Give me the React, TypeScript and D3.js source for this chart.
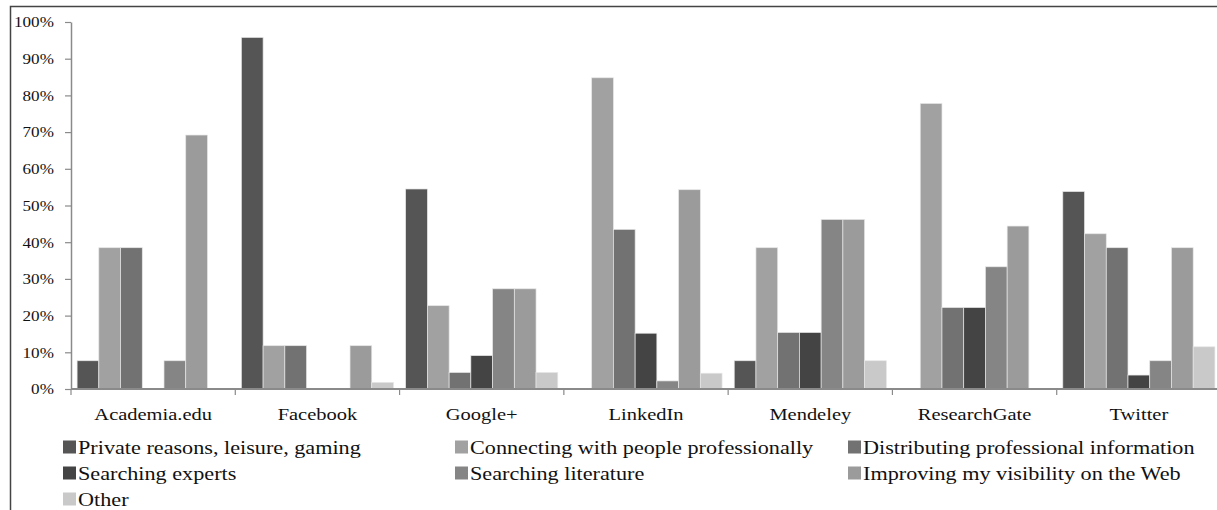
import { useRef, useEffect } from 'react';
import * as d3 from 'd3';

const platforms = ['Academia.edu', 'Facebook', 'Google+', 'LinkedIn', 'Mendeley', 'ResearchGate', 'Twitter'];

const reasons = [
  'Private reasons, leisure, gaming',
  'Connecting with people professionally',
  'Distributing professional information',
  'Searching experts',
  'Searching literature',
  'Improving my visibility on the Web',
  'Other',
];

// one array per reason, values in platform order (%)
const privateReasons = [7.7, 95.8, 54.5, 0, 7.7, 0, 53.8];
const connecting = [38.5, 11.8, 22.7, 84.8, 38.5, 77.8, 42.3];
const distributing = [38.5, 11.8, 4.5, 43.5, 15.4, 22.2, 38.5];
const searchingExperts = [0, 0, 9.1, 15.2, 15.4, 22.2, 3.8];
const searchingLiterature = [7.7, 0, 27.3, 2.2, 46.2, 33.3, 7.7];
const visibility = [69.2, 11.8, 27.3, 54.3, 46.2, 44.4, 38.5];
const other = [0, 1.8, 4.5, 4.3, 7.7, 0, 11.5];

const seriesValues = [privateReasons, connecting, distributing, searchingExperts, searchingLiterature, visibility, other];
const colors = ['#555555', '#a1a1a1', '#727272', '#444444', '#858585', '#9b9b9b', '#c9c9c9'];

const yTicks = [0, 10, 20, 30, 40, 50, 60, 70, 80, 90, 100];

export default function App() {
  const svgRef = useRef<SVGSVGElement>(null);

  useEffect(() => {
    if (!svgRef.current) return;
    const svg = d3.select(svgRef.current);
    svg.selectAll('*').remove();

    const font = 'Liberation Serif';
    const plot = { left: 71, right: 1221, top: 22, bottom: 389 };

    // outer frame (left + top edges visible)
    svg.append('path')
      .attr('d', `M10.5,510 V6.5 H1217`)
      .attr('fill', 'none')
      .attr('stroke', '#444')
      .attr('stroke-width', 1.5);

    const x = d3.scaleBand<string>()
      .domain(platforms)
      .range([plot.left, plot.right]);

    const xInner = d3.scaleBand<string>()
      .domain(reasons)
      .range([0, x.bandwidth()])
      .paddingOuter(0.28);

    const y = d3.scaleLinear()
      .domain([0, 100])
      .range([plot.bottom, plot.top]);

    // bars
    const groups = svg.append('g')
      .selectAll('g')
      .data(platforms)
      .join('g')
      .attr('transform', (d) => `translate(${x(d)},0)`);

    groups.selectAll('rect')
      .data((_, i) => reasons.map((r, k) => ({ r, k, v: seriesValues[k][i] })))
      .join('rect')
      .filter((d) => d.v > 0)
      .attr('x', (d) => xInner(d.r)!)
      .attr('width', xInner.bandwidth())
      .attr('y', (d) => y(d.v))
      .attr('height', (d) => plot.bottom - y(d.v))
      .attr('fill', (d) => colors[d.k])
      .attr('stroke', '#e6e6e6')
      .attr('stroke-width', 0.7);

    // Y axis
    const yAxis = svg.append('g')
      .attr('transform', `translate(${plot.left},0)`)
      .call(
        d3.axisLeft(y)
          .tickValues(yTicks)
          .tickSize(6)
          .tickSizeOuter(0)
          .tickPadding(9)
          .tickFormat((d) => `${d}%`)
      );
    yAxis.select('.domain').attr('stroke', '#8a8a8a').attr('stroke-width', 1.5);
    yAxis.selectAll('.tick line').attr('stroke', '#8a8a8a').attr('stroke-width', 1.2);
    yAxis.selectAll('.tick text')
      .attr('font-family', font)
      .attr('font-size', 15)
      .attr('fill', '#111')
      .attr('transform', 'scale(1.14,1)');

    // X axis baseline + boundary ticks
    const xAxis = svg.append('g');
    xAxis.append('line')
      .attr('x1', plot.left)
      .attr('x2', plot.right)
      .attr('y1', plot.bottom)
      .attr('y2', plot.bottom)
      .attr('stroke', '#8a8a8a')
      .attr('stroke-width', 2);
    xAxis.selectAll('line.sep')
      .data(platforms)
      .join('line')
      .attr('class', 'sep')
      .attr('x1', (d) => x(d)!)
      .attr('x2', (d) => x(d)!)
      .attr('y1', plot.bottom)
      .attr('y2', plot.bottom + 6)
      .attr('stroke', '#8a8a8a')
      .attr('stroke-width', 1.2);
    xAxis.selectAll('g.lbl')
      .data(platforms)
      .join('g')
      .attr('class', 'lbl')
      .attr('transform', (d) => `translate(${x(d)! + x.bandwidth() / 2},420) scale(1.17,1)`)
      .append('text')
      .attr('text-anchor', 'middle')
      .attr('font-family', font)
      .attr('font-size', 17.5)
      .attr('fill', '#111')
      .text((d) => d);

    // legend
    const colX = [63, 455, 848];
    const rowY = [447, 473, 499];
    const legend = svg.append('g')
      .selectAll('g')
      .data(reasons)
      .join('g')
      .attr('transform', (_, i) => `translate(${colX[i % 3]},${rowY[Math.floor(i / 3)]})`);
    legend.append('rect')
      .attr('x', 0)
      .attr('y', -6.5)
      .attr('width', 13)
      .attr('height', 13)
      .attr('fill', (_, i) => colors[i]);
    legend.append('text')
      .attr('transform', 'translate(15,6.5) scale(1.2,1)')
      .attr('font-family', font)
      .attr('font-size', 18.5)
      .attr('fill', '#111')
      .text((d) => d);
  }, []);

  return (
    <>
      <style>{`body{margin:0}`}</style>
      <svg
        ref={svgRef}
        width={1217}
        height={510}
        viewBox="0 0 1217 510"
        style={{ display: 'block', background: '#fff' }}
      />
    </>
  );
}
